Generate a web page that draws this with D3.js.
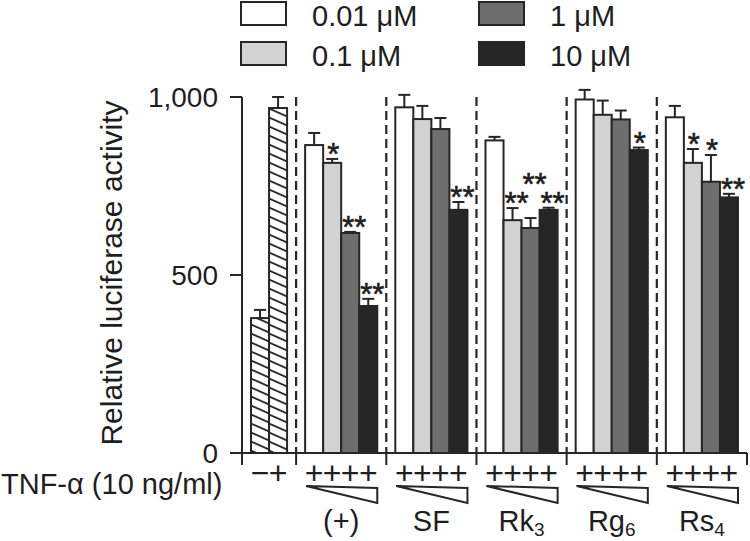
<!DOCTYPE html>
<html>
    <head>
        <meta charset="utf-8">
        <title>Relative luciferase activity</title>
        <script src="https://d3js.org/d3.v7.min.js" charset="utf-8"></script>
        <style>
            body { margin: 0; background: #fff; }
            text { font-family: "Liberation Sans", Arial, sans-serif; fill: #1e1e1e; }
        </style>
    </head>
    <body>
        <script>
            // data
            var concLabels = ["0.01 μM", "0.1 μM", "1 μM", "10 μM"];
            var concColors = ["#ffffff", "#d2d2d2", "#6e6e6e", "#262626"];

            var controlLabels = ["−", "+"];
            var controlMeans = [379, 969];
            var controlSE = [23, 31];

            var groupNames = ["(+)", "SF", "Rk", "Rg", "Rs"];
            var groupSubs = ["", "", "3", "6", "4"];
            var groupMeans = [
                [865, 815, 618, 413],
                [971, 938, 910, 683],
                [878, 654, 632, 683],
                [993, 950, 937, 851],
                [943, 815, 762, 718]
            ];
            var groupSE = [
                [34, 11, 3, 20],
                [35, 37, 31, 22],
                [10, 34, 28, 6],
                [27, 40, 25, 7],
                [32, 39, 75, 10]
            ];
            var groupSig = [
                ["", "*", "**", "**"],
                ["", "", "", "**"],
                ["", "**", "**", "**"],
                ["", "", "", "*"],
                ["", "*", "*", "**"]
            ];
            var yTicks = [0, 500, 1000];
            var xLabel = "TNF-α (10 ng/ml)";
            var yLabel = "Relative luciferase activity";

            var width = 750, height = 541;
            var ink = "#262626";

            var svg = d3.select("body")
                    .append("svg")
                    .attr("width", width)
                    .attr("height", height);

            var y = d3.scaleLinear().domain([0, 1000]).range([453, 97]);
            // x in bar-width units: control block is 3 units, each treatment block 5 units
            var nUnits = 3 + 5 * groupNames.length;
            var x = d3.scaleLinear().domain([0, nUnits]).range([242, 747]);
            var bw = x(1) - x(0);

            // hatch pattern for control bars
            var defs = svg.append("defs");
            var pat = defs.append("pattern")
                    .attr("id", "hatch")
                    .attr("patternUnits", "userSpaceOnUse")
                    .attr("x", x(0.5))
                    .attr("y", 0)
                    .attr("width", bw)
                    .attr("height", 9);
            pat.append("rect").attr("width", bw).attr("height", 9).style("fill", "#fff");
            pat.append("path")
                .attr("d", "M0,0.5 L" + bw + ",8.5")
                .style("stroke", ink)
                .style("stroke-width", 1.8);

            // flatten bars
            var bars = [];
            controlMeans.forEach(function(v, i) {
                bars.push({x0: 0.5 + i, v: v, se: controlSE[i], fill: "url(#hatch)", sig: "", g: -1});
            });
            groupMeans.forEach(function(row, g) {
                row.forEach(function(v, i) {
                    bars.push({x0: 3 + 5 * g + 0.5 + i, v: v, se: groupSE[g][i], fill: concColors[i], sig: groupSig[g][i], g: g});
                });
            });

            // dashed separators
            var seps = [3];
            groupNames.forEach(function(d, g) { if (g < groupNames.length - 1) seps.push(3 + 5 * (g + 1)); });
            svg.selectAll("line.sep")
                .data(seps)
                .enter()
              .append("line")
                .attr("class", "sep")
                .attr("x1", function(d) { return x(d); })
                .attr("x2", function(d) { return x(d); })
                .attr("y1", y(1000))
                .attr("y2", y(0))
                .style("stroke", ink)
                .style("stroke-width", 2.2)
                .style("stroke-dasharray", "9,5");

            // error bars (upper only)
            var eb = svg.selectAll("g.eb")
                    .data(bars)
                    .enter()
                  .append("g")
                    .attr("class", "eb")
                    .style("stroke", ink)
                    .style("stroke-width", 2);
            eb.append("line")
                .attr("x1", function(d) { return x(d.x0 + 0.5); })
                .attr("x2", function(d) { return x(d.x0 + 0.5); })
                .attr("y1", function(d) { return y(d.v); })
                .attr("y2", function(d) { return y(d.v + d.se); });
            eb.append("line")
                .attr("x1", function(d) { return x(d.x0 + 0.5) - 6; })
                .attr("x2", function(d) { return x(d.x0 + 0.5) + 6; })
                .attr("y1", function(d) { return y(d.v + d.se); })
                .attr("y2", function(d) { return y(d.v + d.se); });

            svg.selectAll("rect.bar")
                .data(bars)
                .enter()
              .append("rect")
                .attr("class", "bar")
                .attr("x", function(d) { return x(d.x0); })
                .attr("y", function(d) { return y(d.v); })
                .attr("width", bw)
                .attr("height", function(d) { return y(0) - y(d.v); })
                .style("fill", function(d) { return d.fill; })
                .style("stroke", ink)
                .style("stroke-width", 2);

            // significance stars, lifted when they would collide with the neighbour's
            var starSize = 31;
            var placed = [];
            bars.forEach(function(d) {
                if (!d.sig) return;
                var cx = x(d.x0 + 0.5) + (d.sig.length > 1 ? 4 : 1);
                var w = d.sig.length * 11;
                var cy = y(d.v + d.se) - 12;
                placed.forEach(function(p) {
                    if (p.g === d.g && Math.abs(p.cx - cx) < (p.w + w) / 2 && Math.abs(p.cy - cy) < 18) {
                        cy = p.cy - 19;
                    }
                });
                placed.push({cx: cx, cy: cy, w: w, g: d.g, sig: d.sig});
            });
            svg.selectAll("text.star")
                .data(placed)
                .enter()
              .append("text")
                .attr("class", "star")
                .attr("x", function(d) { return d.cx; })
                .attr("y", function(d) { return d.cy + 18; })
                .attr("text-anchor", "middle")
                .style("font-size", starSize + "px")
                .style("stroke", "#1e1e1e")
                .style("stroke-width", 0.6)
                .text(function(d) { return d.sig; });

            // y axis
            svg.append("line")
                .attr("x1", x(0)).attr("x2", x(0))
                .attr("y1", y(1000)).attr("y2", y(0) + 12)
                .style("stroke", ink).style("stroke-width", 2);
            svg.selectAll("line.ytick")
                .data(yTicks)
                .enter()
              .append("line")
                .attr("class", "ytick")
                .attr("x1", x(0) - 12).attr("x2", x(0))
                .attr("y1", function(d) { return y(d); })
                .attr("y2", function(d) { return y(d); })
                .style("stroke", ink).style("stroke-width", 2);
            svg.selectAll("text.ytick")
                .data(yTicks)
                .enter()
              .append("text")
                .attr("class", "ytick")
                .attr("x", x(0) - 24)
                .attr("y", function(d) { return y(d); })
                .attr("dy", "0.36em")
                .attr("text-anchor", "end")
                .style("font-size", "28px")
                .text(function(d) { return d3.format(",")(d); });

            svg.append("text")
                .attr("transform", "translate(122," + ((y(0) + y(1000)) / 2 - 2) + ") rotate(-90)")
                .attr("text-anchor", "middle")
                .style("font-size", "30px")
                .text(yLabel);

            // x axis
            svg.append("line")
                .attr("x1", x(0) - 12).attr("x2", x(nUnits))
                .attr("y1", y(0)).attr("y2", y(0))
                .style("stroke", ink).style("stroke-width", 2);
            svg.selectAll("line.xtick")
                .data(seps.concat([nUnits]))
                .enter()
              .append("line")
                .attr("class", "xtick")
                .attr("x1", function(d) { return x(d); })
                .attr("x2", function(d) { return x(d); })
                .attr("y1", y(0)).attr("y2", y(0) + 12)
                .style("stroke", ink).style("stroke-width", 2);

            // TNF row
            svg.append("text")
                .attr("x", 1)
                .attr("y", 494)
                .style("font-size", "29px")
                .text(xLabel);
            var plusRow = [];
            controlLabels.forEach(function(l, i) { plusRow.push({x0: 0.5 + i, t: l}); });
            groupNames.forEach(function(n, g) {
                concLabels.forEach(function(c, i) { plusRow.push({x0: 3 + 5 * g + 0.5 + i, t: "+"}); });
            });
            svg.selectAll("text.plus")
                .data(plusRow)
                .enter()
              .append("text")
                .attr("class", "plus")
                .attr("x", function(d) { return x(d.x0 + 0.5); })
                .attr("y", 484)
                .attr("text-anchor", "middle")
                .style("font-size", "32px")
                .text(function(d) { return d.t; });

            // concentration wedges
            svg.selectAll("path.wedge")
                .data(groupNames)
                .enter()
              .append("path")
                .attr("class", "wedge")
                .attr("d", function(d, g) {
                    var l = x(3 + 5 * g + 0.5) + 1, r = x(3 + 5 * g + 4.5);
                    return "M" + l + ",486 L" + r + ",488 L" + r + ",503 Z";
                })
                .style("fill", "none")
                .style("stroke", ink)
                .style("stroke-width", 2)
                .style("stroke-linejoin", "miter");

            // group labels with subscripts
            var gl = svg.selectAll("text.group")
                    .data(groupNames)
                    .enter()
                  .append("text")
                    .attr("class", "group")
                    .attr("x", function(d, g) { return x(3 + 5 * g + 2.5); })
                    .attr("y", 531)
                    .attr("text-anchor", "middle")
                    .style("font-size", "29px");
            gl.append("tspan").text(function(d) { return d; });
            gl.append("tspan")
                .attr("dy", 5)
                .style("font-size", "19px")
                .text(function(d, g) { return groupSubs[g]; });

            // legend
            var leg = svg.selectAll("g.legend")
                    .data(concLabels)
                    .enter()
                  .append("g")
                    .attr("class", "legend")
                    .attr("transform", function(d, i) {
                        return "translate(" + (241 + Math.floor(i / 2) * 238) + "," + (2 + (i % 2) * 40) + ")";
                    });
            leg.append("rect")
                .attr("width", 45)
                .attr("height", 23)
                .style("fill", function(d, i) { return concColors[i]; })
                .style("stroke", ink)
                .style("stroke-width", 2);
            leg.append("text")
                .attr("x", 71)
                .attr("y", 24)
                .style("font-size", "29px")
                .text(function(d) { return d; });
        </script>
    </body>
</html>
